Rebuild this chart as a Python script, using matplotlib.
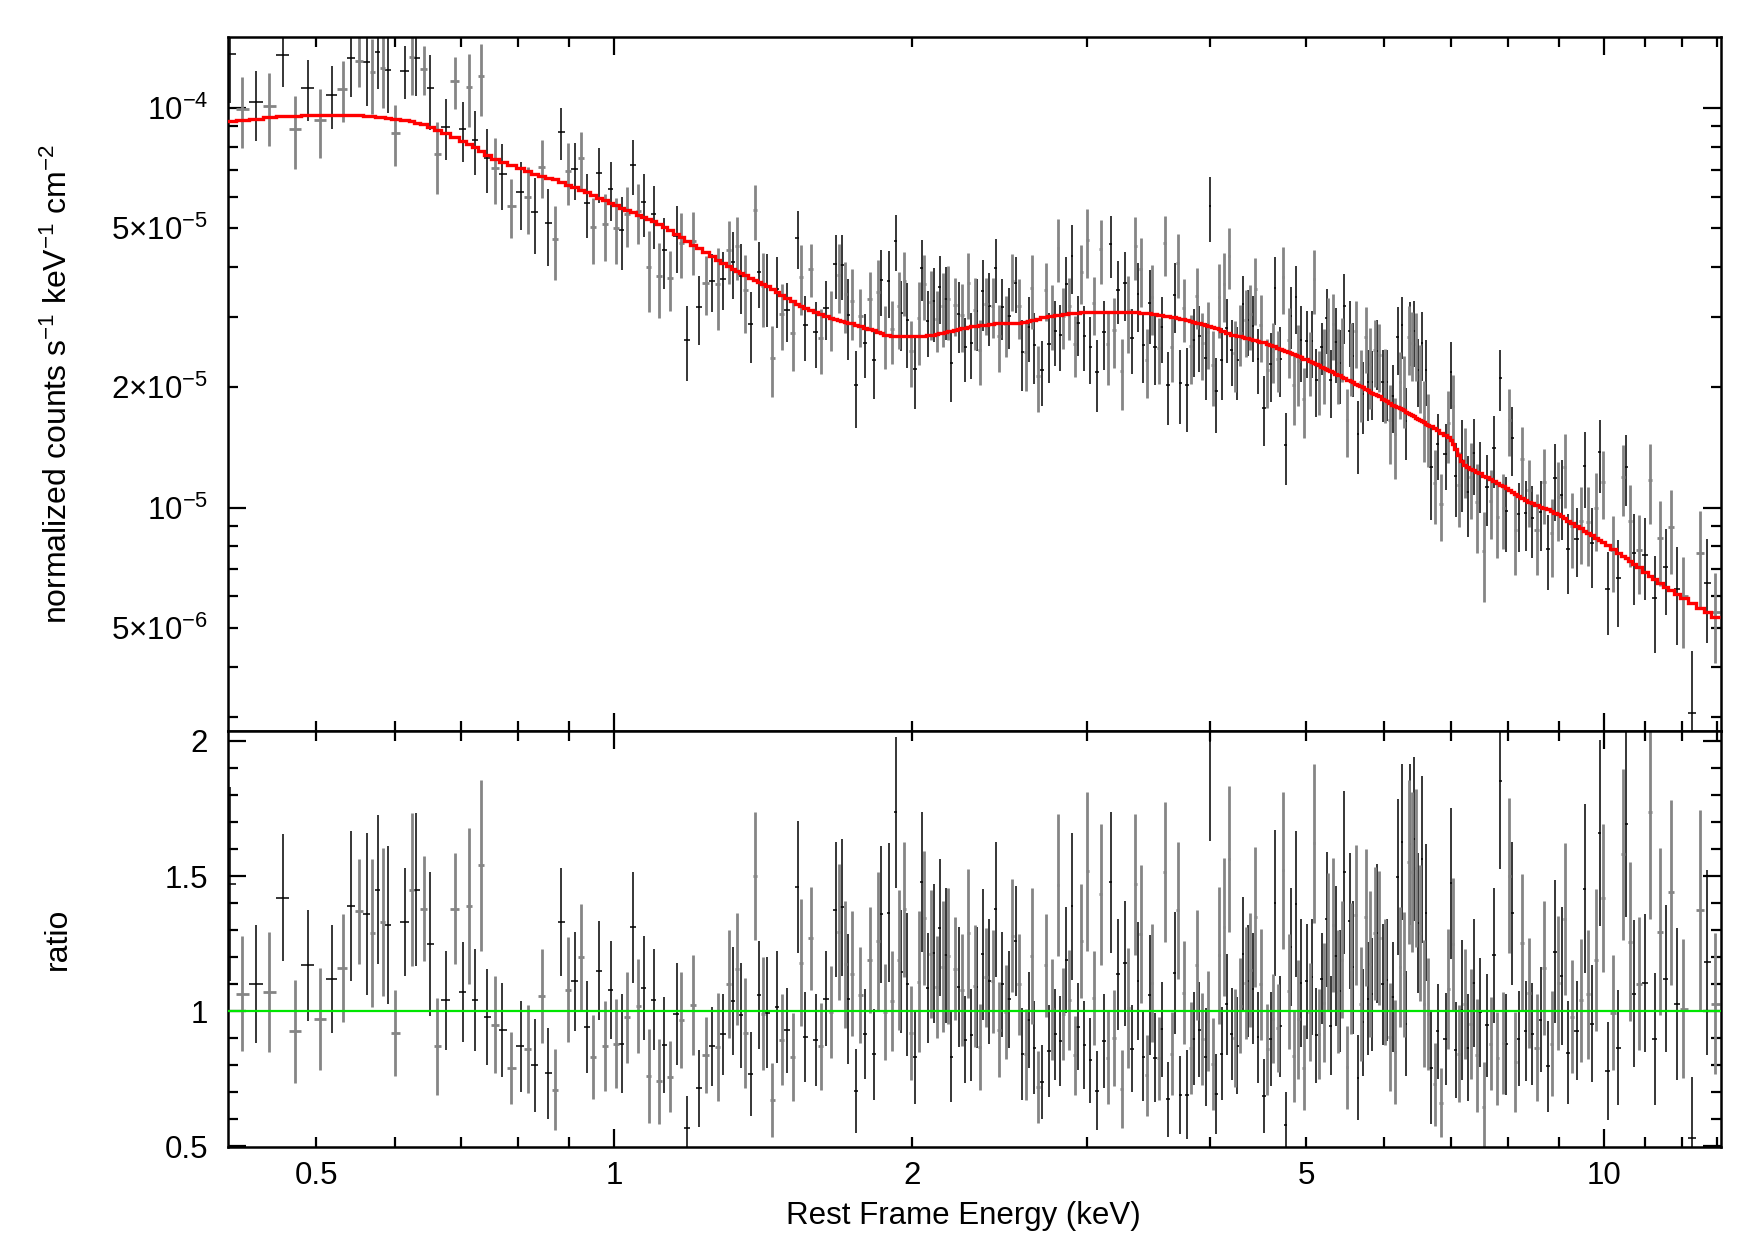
import numpy as np
import matplotlib
matplotlib.use("Agg")
import matplotlib.pyplot as plt
from matplotlib.ticker import FixedLocator, FixedFormatter, FuncFormatter

plt.rcParams['font.family'] = ['Liberation Sans', 'DejaVu Sans']
plt.rcParams['mathtext.fontset'] = 'custom'
plt.rcParams['mathtext.rm'] = 'Liberation Sans'
plt.rcParams['mathtext.it'] = 'Liberation Sans:italic'
plt.rcParams['mathtext.bf'] = 'Liberation Sans:bold'

# bin centres (keV)
energy = [
    0.4086, 0.4200, 0.4342, 0.4481, 0.4624, 0.4758, 0.4900, 0.5040, 0.5179, 0.5313,
    0.5420, 0.5522, 0.5626, 0.5696, 0.5768, 0.5834, 0.5903, 0.6004, 0.6145, 0.6246,
    0.6310, 0.6418, 0.6519, 0.6620, 0.6755, 0.6894, 0.7029, 0.7133, 0.7233, 0.7334,
    0.7437, 0.7571, 0.7708, 0.7871, 0.8038, 0.8177, 0.8311, 0.8448, 0.8570, 0.8712,
    0.8842, 0.8982, 0.9116, 0.9250, 0.9374, 0.9512, 0.9646, 0.9775, 0.9911, 1.0042,
    1.0169,
    1.0303, 1.0440, 1.0570, 1.0702, 1.0836, 1.0962, 1.1090, 1.1229, 1.1387, 1.1556,
    1.1682, 1.1846, 1.2004, 1.2173, 1.2373, 1.2557, 1.2714, 1.2883, 1.3044, 1.3176,
    1.3299, 1.3434, 1.3560, 1.3729, 1.3879, 1.4009, 1.4140, 1.4261, 1.4439, 1.4597,
    1.4756, 1.4952, 1.5138, 1.5315, 1.5434, 1.5591, 1.5785, 1.5970, 1.6157, 1.6371,
    1.6563, 1.6731, 1.6848, 1.6979, 1.7111, 1.7231, 1.7366, 1.7541, 1.7719, 1.7927,
    1.8109, 1.8306, 1.8477, 1.8607, 1.8766, 1.8927, 1.9089, 1.9253, 1.9387, 1.9493,
    1.9629, 1.9767, 1.9936, 2.0122, 2.0295, 2.0437, 2.0564, 2.0724, 2.0869, 2.1016,
    2.1163, 2.1328, 2.1461, 2.1611, 2.1745, 2.1898, 2.2085, 2.2292, 2.2448, 2.2623,
    2.2781, 2.2941, 2.3120, 2.3245, 2.3408, 2.3572, 2.3737, 2.3922, 2.4108, 2.4296,
    2.4466,
    2.4657, 2.4849, 2.5042, 2.5237, 2.5434, 2.5632, 2.5831, 2.6032, 2.6235, 2.6399,
    2.6563, 2.6792, 2.7062, 2.7295, 2.7486, 2.7699, 2.7893, 2.8067, 2.8220, 2.8418,
    2.8617, 2.8817, 2.8997, 2.9200, 2.9404, 2.9633, 2.9841, 3.0050, 3.0260, 3.0496,
    3.0733, 3.1021, 3.1238, 3.1506, 3.1727, 3.1974, 3.2249, 3.2550, 3.2803, 3.3058,
    3.3342, 3.3601, 3.3811, 3.4021, 3.4232, 3.4500, 3.4741, 3.4930, 3.5175, 3.5504,
    3.5753, 3.6003, 3.6255, 3.6566, 3.6851, 3.7080, 3.7311, 3.7602, 3.7924, 3.8220,
    3.8487, 3.8787, 3.8999, 3.9272, 3.9578, 3.9824, 4.0010, 4.0228, 4.0573, 4.0857,
    4.1078, 4.1303, 4.1560, 4.1786, 4.2047, 4.2341, 4.2604, 4.2902, 4.3170, 4.3438,
    4.3675, 4.3913, 4.4186, 4.4427, 4.4705, 4.5018, 4.5333, 4.5686, 4.6042, 4.6328,
    4.6544, 4.6797, 4.7089, 4.7382, 4.7677, 4.8011, 4.8273, 4.8573, 4.8838, 4.9104,
    4.9410, 4.9756, 5.0066, 5.0417, 5.0691, 5.0928, 5.1205, 5.1524, 5.1845, 5.2127,
    5.2452, 5.2654, 5.2942, 5.3271, 5.3562, 5.3895, 5.4105, 5.4400, 5.4654, 5.4994,
    5.5337, 5.5552, 5.5811, 5.6115, 5.6421, 5.6816, 5.7126, 5.7437, 5.7750, 5.8019,
    5.8336, 5.8653, 5.8973, 5.9248,
    5.9750, 6.0029, 6.0309, 6.0779, 6.1157, 6.1538, 6.1873, 6.2162, 6.2452, 6.2743,
    6.3085, 6.3477, 6.3723, 6.3971, 6.4220, 6.4520, 6.4821, 6.5123, 6.5427, 6.5732,
    6.6090, 6.6450, 6.6812, 6.7437, 6.7909, 6.8490, 6.9183, 6.9612, 7.0046, 7.0426,
    7.0810, 7.1362, 7.1861, 7.2310, 7.2816, 7.3383, 7.3896, 7.4357, 7.4935, 7.5578,
    7.6167, 7.6819, 7.7416, 7.8019, 7.8565, 7.9055, 7.9671, 8.0229, 8.0729, 8.1358,
    8.1990, 8.2629, 8.3337, 8.3985, 8.4638, 8.5497, 8.6298, 8.6969, 8.7714, 8.8535,
    8.9224, 8.9918, 9.0619, 9.1254, 9.2036, 9.2896, 9.3839, 9.4718, 9.5604, 9.6274,
    9.7249, 9.8156, 9.9002, 9.9768, 10.086, 10.219, 10.339, 10.460, 10.533, 10.615,
    10.731, 10.839, 11.009, 11.129, 11.250, 11.400, 11.542, 11.681, 11.845, 12.030,
    12.275, 12.507, 12.712, 12.961,
]

# data / model ratio
ratio = [
    1.47, 1.065, 1.10, 1.07, 1.42, 0.926, 1.17, 0.97, 1.12, 1.16,
    1.39, 1.37, 1.36, 1.29, 1.45, 1.33, 1.32, 0.92, 1.33, 1.45,
    1.45, 1.38, 1.25, 0.87, 1.04, 1.38, 1.07, 1.39, 1.04, 1.54,
    0.98, 0.95, 0.93, 0.79, 0.87, 0.86, 0.80, 1.056, 0.77, 0.71,
    1.33, 1.08, 1.11, 1.20, 0.94, 0.83, 1.15, 0.87, 1.08, 0.88,
    0.88,
    0.978, 1.31, 1.02, 1.086, 0.76, 1.042, 0.74, 0.874, 0.758, 0.99,
    0.968, 0.567, 1.023, 0.714, 0.837, 0.87, 0.868, 0.914, 1.10, 1.038,
    1.156, 0.985, 0.92, 0.768, 1.50, 1.06, 0.99, 0.995, 0.673, 1.016,
    0.895, 0.93, 0.831, 1.46, 1.18, 0.905, 1.27, 0.894, 0.87, 1.047,
    0.998, 1.375, 1.294, 1.384, 1.173, 1.046, 1.138, 0.705, 1.06, 0.917,
    1.19, 0.84, 1.26, 1.358, 0.998, 1.364, 1.037, 1.736, 1.19, 1.146,
    1.377, 1.10, 0.92, 0.83, 1.109, 1.479, 1.346, 1.086, 1.212, 1.214,
    1.09, 1.309, 1.165, 1.207, 1.204, 0.83, 1.157, 1.09, 1.08, 0.895,
    1.288, 0.911, 1.093, 1.089, 0.868, 1.21, 1.125, 1.111, 1.111, 1.377,
    0.932,
    1.10, 0.998, 1.044, 1.28, 1.26, 1.10, 0.843, 0.84, 0.967, 1.204,
    0.865, 0.719, 0.738, 1.17, 0.852, 1.007, 0.914, 1.468, 0.889, 0.99,
    1.19, 1.042, 1.389, 0.837, 0.943, 1.26, 0.874, 1.517, 0.818, 1.049,
    0.706, 1.432, 0.888, 0.828, 1.477, 0.901, 1.136, 0.712, 1.177, 1.012,
    0.862, 1.469, 1.112, 1.286, 0.831, 0.763, 1.06, 1.105, 0.828, 0.825,
    0.933, 1.516, 0.674, 0.843, 1.14, 1.374, 0.69, 1.069, 0.691, 0.864,
    0.899, 1.17, 0.931, 0.896, 0.83, 0.965, 2.0, 0.804, 0.695, 1.207,
    0.843, 1.312, 1.025, 1.563, 0.915, 0.901, 0.872, 1.02, 1.21, 1.105,
    1.112, 1.152, 1.084, 1.348, 0.904, 1.099, 0.686, 0.859, 0.896, 0.973,
    1.401, 0.938, 0.944, 1.522, 0.58, 1.074, 1.238, 0.835, 1.396, 0.97,
    1.105, 0.791, 1.111, 0.998, 1.127, 1.621, 0.911, 0.917, 1.121, 1.032,
    1.34, 1.259, 0.946, 1.319, 1.205, 1.072, 1.075, 1.19, 1.514, 0.793,
    1.333, 1.158, 1.162, 1.356, 0.754, 1.025, 0.96, 1.347, 1.047, 1.174,
    1.062, 1.288, 1.288, 1.27,
    1.10, 1.109, 1.116, 0.904, 1.052, 0.849, 1.497, 1.163, 1.625, 1.136,
    0.954, 1.552, 1.617, 1.516, 1.636, 1.53, 1.325, 1.289, 1.563, 1.028,
    1.364, 0.99, 0.79, 0.73, 0.926, 0.662, 0.896, 1.083, 1.474, 1.248,
    0.856, 0.843, 1.004, 1.028, 0.864, 0.954, 1.105, 0.837, 0.996, 0.647,
    0.948, 0.88, 1.207, 0.825, 1.852, 0.883, 0.877, 1.502, 1.362, 0.812,
    0.898, 1.253, 0.928, 1.067, 0.917, 0.865, 0.969, 1.159, 0.796, 0.879,
    1.22, 1.105, 1.131, 1.34, 0.847, 0.98, 0.927, 1.04, 1.454, 1.062,
    0.954, 1.19, 1.66, 1.419, 0.779, 0.995, 0.865, 1.58, 1.691, 1.257,
    1.064, 1.102, 1.105, 1.736, 0.898, 1.294, 1.121, 1.44, 1.026, 1.01,
    0.532, 1.373, 1.181, 1.028,
]

ratio_err = [
    0.36, 0.214, 0.219, 0.222, 0.235, 0.19, 0.206, 0.189, 0.20, 0.20,
    0.278, 0.195, 0.30, 0.275, 0.277, 0.275, 0.293, 0.160, 0.20, 0.284,
    0.283, 0.193, 0.266, 0.179, 0.182, 0.205, 0.185, 0.288, 0.189, 0.317,
    0.178, 0.180, 0.175, 0.133, 0.169, 0.163, 0.172, 0.175, 0.168, 0.149,
    0.199, 0.193, 0.183, 0.196, 0.170, 0.156, 0.182, 0.166, 0.181, 0.165,
    0.182,
    0.168, 0.206, 0.175, 0.194, 0.173, 0.187, 0.157, 0.177, 0.13, 0.188,
    0.178, 0.12, 0.184, 0.141, 0.141, 0.145, 0.20, 0.15, 0.20, 0.20,
    0.208, 0.195, 0.204, 0.154, 0.236, 0.199, 0.209, 0.206, 0.137, 0.206,
    0.167, 0.157, 0.164, 0.243, 0.235, 0.167, 0.19, 0.17, 0.162, 0.177,
    0.17, 0.25, 0.252, 0.255, 0.236, 0.24, 0.231, 0.154, 0.177, 0.167,
    0.196, 0.167, 0.256, 0.254, 0.178, 0.257, 0.186, 0.28, 0.258, 0.228,
    0.251, 0.264, 0.173, 0.173, 0.26, 0.26, 0.248, 0.202, 0.238, 0.257,
    0.189, 0.254, 0.242, 0.25, 0.252, 0.167, 0.19, 0.222, 0.207, 0.162,
    0.24, 0.171, 0.225, 0.224, 0.16, 0.244, 0.184, 0.231, 0.19, 0.25,
    0.177,
    0.194, 0.174, 0.18, 0.208, 0.202, 0.187, 0.17, 0.17, 0.179, 0.252,
    0.173, 0.134, 0.136, 0.191, 0.17, 0.186, 0.17, 0.262, 0.167, 0.171,
    0.196, 0.185, 0.272, 0.147, 0.162, 0.212, 0.162, 0.296, 0.156, 0.173,
    0.146, 0.26, 0.174, 0.171, 0.261, 0.179, 0.204, 0.144, 0.23, 0.223,
    0.16, 0.262, 0.219, 0.254, 0.165, 0.149, 0.223, 0.218, 0.164, 0.154,
    0.176, 0.259, 0.139, 0.154, 0.226, 0.253, 0.145, 0.19, 0.164, 0.17,
    0.173, 0.204, 0.176, 0.17, 0.182, 0.185, 0.37, 0.171, 0.148, 0.253,
    0.173, 0.256, 0.188, 0.269, 0.17, 0.182, 0.18, 0.176, 0.211, 0.208,
    0.207, 0.211, 0.204, 0.258, 0.168, 0.207, 0.137, 0.169, 0.174, 0.164,
    0.269, 0.164, 0.188, 0.291, 0.12, 0.213, 0.219, 0.17, 0.27, 0.22,
    0.238, 0.157, 0.213, 0.182, 0.216, 0.293, 0.175, 0.167, 0.169, 0.219,
    0.25, 0.254, 0.183, 0.248, 0.258, 0.228, 0.227, 0.216, 0.301, 0.154,
    0.251, 0.241, 0.245, 0.259, 0.157, 0.211, 0.198, 0.253, 0.209, 0.27,
    0.21, 0.247, 0.256, 0.247,
    0.224, 0.233, 0.227, 0.201, 0.204, 0.193, 0.29, 0.222, 0.289, 0.231,
    0.194, 0.302, 0.298, 0.296, 0.304, 0.293, 0.259, 0.252, 0.309, 0.235,
    0.253, 0.207, 0.207, 0.154, 0.176, 0.128, 0.17, 0.223, 0.279, 0.244,
    0.179, 0.179, 0.259, 0.204, 0.198, 0.204, 0.238, 0.21, 0.201, 0.164,
    0.191, 0.173, 0.249, 0.173, 0.326, 0.188, 0.186, 0.287, 0.265, 0.184,
    0.176, 0.254, 0.185, 0.204, 0.189, 0.198, 0.193, 0.247, 0.169, 0.194,
    0.265, 0.248, 0.256, 0.281, 0.191, 0.21, 0.183, 0.228, 0.313, 0.238,
    0.216, 0.262, 0.343, 0.273, 0.182, 0.214, 0.213, 0.317, 0.342, 0.294,
    0.272, 0.247, 0.256, 0.393, 0.244, 0.309, 0.272, 0.343, 0.282, 0.259,
    0.225, 0.373, 0.343, 0.262,
]

# folded model per bin, in units of 1e-5 counts/s/keV/cm^2
model = [
    9.27, 9.33, 9.40, 9.47, 9.53, 9.57, 9.60, 9.62, 9.62, 9.61,
    9.60, 9.59, 9.56, 9.53, 9.50, 9.47, 9.44, 9.40, 9.32, 9.25,
    9.19, 9.09, 8.96, 8.81, 8.63, 8.45, 8.26, 8.11, 7.97, 7.80,
    7.63, 7.46, 7.34, 7.20, 7.06, 6.95, 6.85, 6.74, 6.68, 6.62,
    6.54, 6.43, 6.33, 6.24, 6.15, 6.05, 5.96, 5.88, 5.79, 5.70,
    5.62,
    5.54, 5.48, 5.41, 5.34, 5.27, 5.20, 5.12, 5.04, 4.94, 4.83,
    4.75, 4.64, 4.54, 4.45, 4.35, 4.25, 4.17, 4.09, 4.02, 3.96,
    3.91, 3.86, 3.81, 3.75, 3.70, 3.66, 3.62, 3.58, 3.52, 3.47,
    3.41, 3.35, 3.29, 3.24, 3.20, 3.16, 3.12, 3.08, 3.05, 3.01,
    2.98, 2.96, 2.95, 2.93, 2.92, 2.90, 2.89, 2.87, 2.85, 2.82,
    2.80, 2.78, 2.75, 2.73, 2.71, 2.70, 2.69, 2.68, 2.68, 2.68,
    2.68, 2.68, 2.68, 2.68, 2.68, 2.69, 2.69, 2.70, 2.70, 2.71,
    2.72, 2.73, 2.74, 2.75, 2.76, 2.77, 2.78, 2.80, 2.81, 2.82,
    2.83, 2.84, 2.85, 2.85, 2.86, 2.87, 2.87, 2.88, 2.88, 2.89,
    2.89,
    2.89, 2.89, 2.89, 2.89, 2.90, 2.90, 2.91, 2.92, 2.93, 2.94,
    2.95, 2.97, 2.99, 3.00, 3.01, 3.02, 3.03, 3.04, 3.04, 3.05,
    3.05, 3.06, 3.06, 3.07, 3.07, 3.08, 3.08, 3.08, 3.08, 3.09,
    3.09, 3.09, 3.09, 3.09, 3.09, 3.09, 3.09, 3.09, 3.09, 3.08,
    3.08, 3.08, 3.08, 3.07, 3.07, 3.07, 3.06, 3.05, 3.05, 3.04,
    3.03, 3.02, 3.01, 3.00, 2.99, 2.98, 2.97, 2.96, 2.94, 2.93,
    2.92, 2.90, 2.89, 2.88, 2.86, 2.85, 2.84, 2.83, 2.81, 2.79,
    2.77, 2.76, 2.74, 2.73, 2.71, 2.70, 2.69, 2.68, 2.67, 2.66,
    2.65, 2.64, 2.63, 2.62, 2.61, 2.60, 2.59, 2.57, 2.55, 2.54,
    2.53, 2.51, 2.50, 2.48, 2.47, 2.45, 2.44, 2.42, 2.41, 2.40,
    2.38, 2.36, 2.35, 2.33, 2.31, 2.30, 2.29, 2.27, 2.25, 2.24,
    2.22, 2.21, 2.20, 2.18, 2.16, 2.15, 2.14, 2.12, 2.11, 2.09,
    2.08, 2.07, 2.06, 2.04, 2.03, 2.01, 2.00, 1.98, 1.97, 1.95,
    1.94, 1.92, 1.91, 1.90,
    1.87, 1.86, 1.85, 1.83, 1.81, 1.80, 1.78, 1.77, 1.76, 1.75,
    1.73, 1.72, 1.71, 1.70, 1.69, 1.68, 1.67, 1.66, 1.65, 1.64,
    1.62, 1.61, 1.60, 1.58, 1.56, 1.54, 1.52, 1.50, 1.48, 1.44,
    1.40, 1.35, 1.31, 1.28, 1.265, 1.25, 1.24, 1.23, 1.22, 1.20,
    1.19, 1.18, 1.165, 1.15, 1.14, 1.13, 1.12, 1.105, 1.095, 1.08,
    1.07, 1.055, 1.045, 1.035, 1.025, 1.015, 1.005, 0.997, 0.99, 0.98,
    0.97, 0.962, 0.95, 0.94, 0.928, 0.915, 0.90, 0.888, 0.875, 0.866,
    0.853, 0.84, 0.828, 0.818, 0.804, 0.787, 0.771, 0.755, 0.746, 0.736,
    0.722, 0.71, 0.69, 0.676, 0.662, 0.647, 0.634, 0.622, 0.608, 0.594,
    0.577, 0.561, 0.548, 0.532,
]

E = np.array(energy)
R = np.array(ratio)
Rerr = np.array(ratio_err)
M = np.array(model) * 1e-5

# data in the top panel = ratio * model
flux = R * M
flux_err = Rerr * M

# bin edges half way (in log) between neighbouring centres
loge = np.log10(E)
mid = (loge[1:] + loge[:-1]) / 2
edges = 10 ** np.concatenate([[2 * loge[0] - mid[0]], mid, [2 * loge[-1] - mid[-1]]])
xlo = E - edges[:-1]
xhi = edges[1:] - E

fig = plt.figure(figsize=(17.55, 12.4), dpi=100)
ax1 = fig.add_axes([0.1297, 0.4105, 0.8509, 0.5597])
ax2 = fig.add_axes([0.1297, 0.075, 0.8509, 0.3355], sharex=ax1)

# two interleaved spectra: thin black and wider grey bars
styles = [('black', 1.1), ('#858585', 2.0)]
for k, (col, lw) in enumerate(styles):
    sel = slice(k, None, 2)
    ax1.errorbar(E[sel], flux[sel], xerr=[xlo[sel], xhi[sel]], yerr=flux_err[sel],
                 fmt='none', ecolor=col, elinewidth=lw, capsize=0)
    ax2.errorbar(E[sel], R[sel], xerr=[xlo[sel], xhi[sel]], yerr=Rerr[sel],
                 fmt='none', ecolor=col, elinewidth=lw, capsize=0)

ax1.stairs(M, edges, color='red', lw=2.4, baseline=None, zorder=5)
ax2.axhline(1.0, color='#00e600', lw=1.6, zorder=5)

ax1.set_xscale('log')
ax1.set_yscale('log')
ax1.set_xlim(0.4066, 13.13)
ax1.set_ylim(2.76e-6, 1.505e-4)
ax2.set_ylim(0.4975, 2.037)

# x ticks
ax2.xaxis.set_major_locator(FixedLocator([1, 10]))
ax2.xaxis.set_major_formatter(FixedFormatter(['1', '10']))
ax2.xaxis.set_minor_locator(FixedLocator([0.5, 0.6, 0.7, 0.8, 0.9, 2, 3, 4, 5, 6, 7, 8, 9, 11, 12, 13]))
xminor_labels = {0.5: '0.5', 2.0: '2', 5.0: '5'}
ax2.xaxis.set_minor_formatter(FuncFormatter(lambda v, p: xminor_labels.get(round(v, 2), '')))

# y ticks, top panel
ax1.yaxis.set_major_locator(FixedLocator([1e-5, 1e-4]))
ax1.yaxis.set_major_formatter(FixedFormatter([r'$\mathregular{10^{-5}}$', r'$\mathregular{10^{-4}}$']))
ymin = [k * 1e-6 for k in range(3, 10)] + [k * 1e-5 for k in range(2, 10)]
ax1.yaxis.set_minor_locator(FixedLocator(ymin))
yminor_labels = {5e-6: r'$\mathregular{5{\times}10^{-6}}$',
                 2e-5: r'$\mathregular{2{\times}10^{-5}}$',
                 5e-5: r'$\mathregular{5{\times}10^{-5}}$'}
ax1.yaxis.set_minor_formatter(FuncFormatter(
    lambda v, p: next((s for key, s in yminor_labels.items() if abs(v - key) < key * 1e-3), '')))

# y ticks, ratio panel
ax2.yaxis.set_major_locator(FixedLocator([0.5, 1.0, 1.5, 2.0]))
ax2.yaxis.set_major_formatter(FixedFormatter(['0.5', '1', '1.5', '2']))
ax2.yaxis.set_minor_locator(FixedLocator([0.6, 0.7, 0.8, 0.9, 1.1, 1.2, 1.3, 1.4,
                                          1.6, 1.7, 1.8, 1.9]))

for ax in (ax1, ax2):
    ax.tick_params(axis='both', which='both', direction='in', top=True, right=True,
                   width=1.6, labelsize=22.5, colors='black')
    ax.tick_params(which='major', length=13)
    ax.tick_params(which='minor', length=7)
    ax.tick_params(axis='y', which='both', pad=14)
    ax.tick_params(axis='x', which='both', pad=10)
    for sp in ax.spines.values():
        sp.set_linewidth(1.8)

ax1.tick_params(axis='x', which='both', labelbottom=False)

ax1.set_ylabel(r'normalized counts s$^{-1}$ keV$^{-1}$ cm$^{-2}$', fontsize=23, va='center')
ax1.yaxis.set_label_coords(-0.1136, 0.5)
ax2.set_ylabel('ratio', fontsize=23, va='center')
ax2.yaxis.set_label_coords(-0.1136, 0.5)
ax2.set_xlabel('Rest Frame Energy (keV)', fontsize=22.5, va='center')
ax2.xaxis.set_label_coords(0.4924, -0.166)

fig.savefig('out.png', dpi=100)
